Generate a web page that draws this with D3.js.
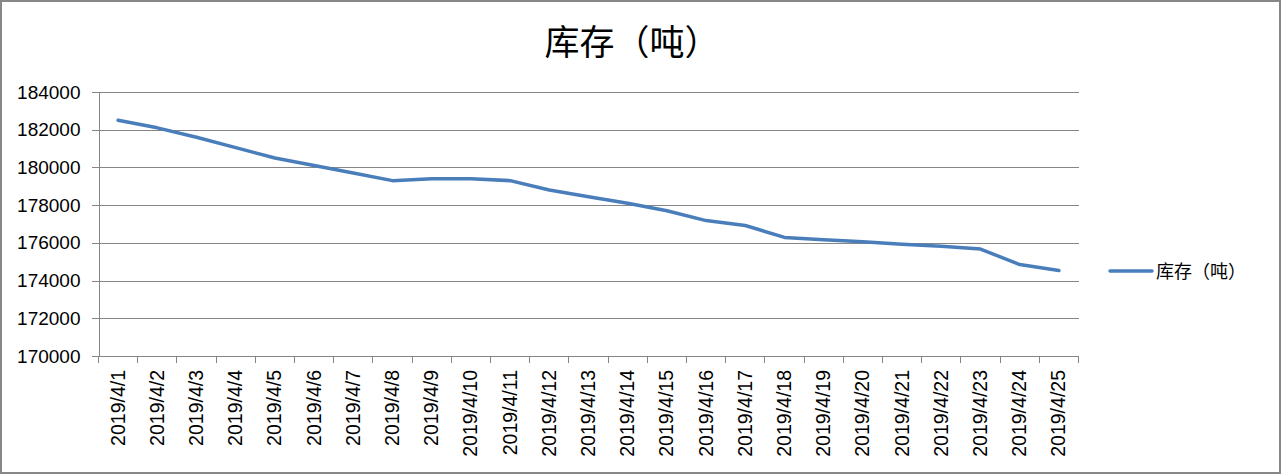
<!DOCTYPE html>
<html>
<head>
<meta charset="utf-8">
<script src="https://cdn.jsdelivr.net/npm/d3@7"></script>
<style>
  html, body { margin: 0; padding: 0; background: #fff; }
  svg { display: block; }
</style>
</head>
<body>
<svg id="chart" width="1282" height="476"></svg>
<script>
const title = "库存（吨）";
const seriesName = "库存（吨）";
const dates = ["2019/4/1","2019/4/2","2019/4/3","2019/4/4","2019/4/5","2019/4/6","2019/4/7","2019/4/8","2019/4/9","2019/4/10","2019/4/11","2019/4/12","2019/4/13","2019/4/14","2019/4/15","2019/4/16","2019/4/17","2019/4/18","2019/4/19","2019/4/20","2019/4/21","2019/4/22","2019/4/23","2019/4/24","2019/4/25"];
const values = [182500, 182100, 181600, 181050, 180500, 180100, 179700, 179300, 179400, 179400, 179300, 178800, 178450, 178100, 177700, 177180, 176920, 176290, 176170, 176060, 175920, 175820, 175670, 174850, 174530];
const yTicks = [170000, 172000, 174000, 176000, 178000, 180000, 182000, 184000];

(function () {
const svg = d3.select("#chart");
const W = 1282, H = 476;
const pLeft = 98.5, pRight = 1078.5, pTop = 92, pBottom = 356;
const gray = "#868686";
const lineColor = "#4a7ebb";
const font = "'Liberation Sans', Arial, sans-serif";
const cjk = "'Noto Sans CJK SC', sans-serif";

// border
svg.append("rect").attr("x", 1).attr("y", 1).attr("width", W - 3).attr("height", H - 4)
  .attr("fill", "#fff").attr("stroke", "#878787").attr("stroke-width", 2);

const x = d3.scaleBand().domain(dates).range([pLeft, pRight]).padding(0);
const y = d3.scaleLinear().domain([170000, 184000]).range([pBottom, pTop]);

// gridlines
svg.append("g").attr("transform", `translate(${pLeft},0)`)
  .call(d3.axisLeft(y).tickValues(yTicks).tickSize(-(pRight - pLeft)).tickFormat(""))
  .call(g => g.select(".domain").remove())
  .call(g => g.selectAll("line").attr("stroke", gray).attr("shape-rendering", "crispEdges"));

// y axis
svg.append("g").attr("transform", `translate(${pLeft},0)`)
  .call(d3.axisLeft(y).tickValues(yTicks).tickSize(7).tickSizeOuter(0).tickPadding(11).tickFormat(d3.format("d")))
  .call(g => g.select(".domain").attr("stroke", gray).attr("shape-rendering", "crispEdges"))
  .call(g => g.selectAll("line").attr("stroke", gray).attr("shape-rendering", "crispEdges"))
  .call(g => g.selectAll("text").attr("fill", "#000").style("font-family", font).style("font-size", "19px"));

// x axis line
svg.append("g").attr("transform", `translate(0,${pBottom})`)
  .call(d3.axisBottom(x).tickSize(0).tickSizeOuter(0).tickFormat(""))
  .call(g => g.select(".domain").attr("stroke", gray).attr("shape-rendering", "crispEdges"));

// x boundary ticks
const bounds = dates.map(d => x(d)).concat([x(dates[dates.length - 1]) + x.bandwidth()]);
svg.append("g").selectAll("line").data(bounds).join("line")
  .attr("x1", d => d).attr("x2", d => d)
  .attr("y1", pBottom).attr("y2", pBottom + 7)
  .attr("stroke", gray).attr("shape-rendering", "crispEdges");

// x labels
svg.append("g").selectAll("text").data(dates).join("text")
  .attr("transform", d => `translate(${x(d) + x.bandwidth() / 2 + 6.5},${pBottom + 14}) rotate(-90)`)
  .attr("text-anchor", "end")
  .style("font-family", font).style("font-size", "19.5px").attr("fill", "#000")
  .text(d => d);

// line
const line = d3.line().x((d, i) => x(dates[i]) + x.bandwidth() / 2).y(d => y(d));
svg.append("path").datum(values)
  .attr("d", line).attr("fill", "none")
  .attr("stroke", lineColor).attr("stroke-width", 3.5)
  .attr("stroke-linejoin", "round").attr("stroke-linecap", "round");

// title
svg.append("text").attr("x", 632).attr("y", 55).attr("text-anchor", "middle")
  .style("font-family", cjk).style("font-size", "35px").attr("fill", "#000")
  .text(title);

// legend
svg.append("line").attr("x1", 1110).attr("x2", 1152).attr("y1", 271).attr("y2", 271)
  .attr("stroke", lineColor).attr("stroke-width", 3.5).attr("stroke-linecap", "round");
svg.append("text").attr("x", 1156).attr("y", 277.5)
  .style("font-family", cjk).style("font-size", "18px").attr("fill", "#000")
  .text(seriesName);
})();
</script>
</body>
</html>
